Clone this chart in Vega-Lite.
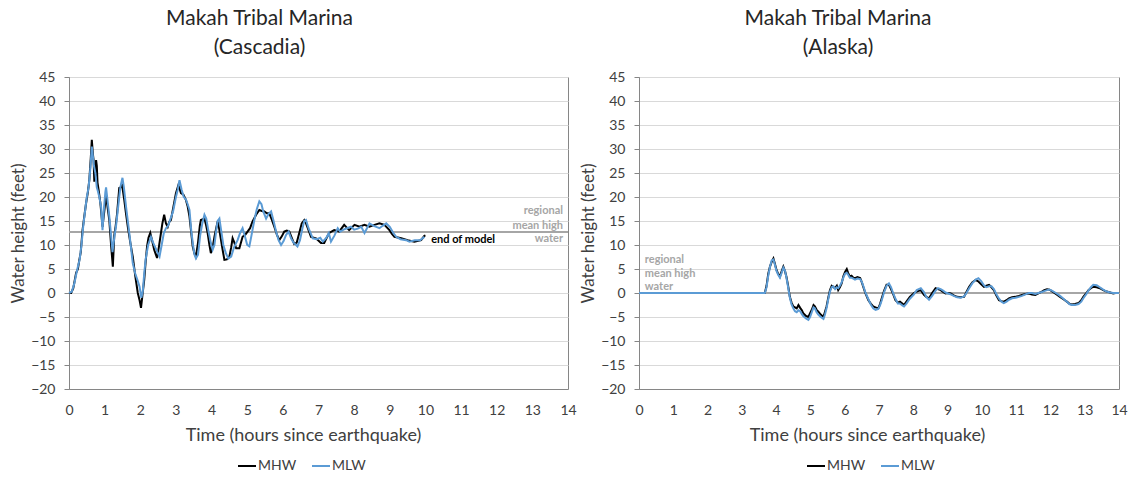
{
  "$schema": "https://vega.github.io/schema/vega-lite/v6.json",
  "padding": {"left": 9, "top": 7, "right": 0, "bottom": 0},
  "spacing": 2,
  "background": "white",
  "config": {
    "font": "Lato",
    "view": {"stroke": "#868686", "strokeWidth": 1},
    "axis": {
      "domainColor": "#868686",
      "tickColor": "#868686",
      "labelColor": "#404040",
      "titleColor": "#404040",
      "labelFontSize": 14,
      "titleFontSize": 17,
      "titleFontWeight": "normal",
      "gridColor": "#d9d9d9",
      "labelFont": "Lato",
      "titleFont": "Lato",
      "labelFlush": false
    },
    "legend": {"labelFont": "Lato", "labelFontSize": 14, "labelColor": "#404040"},
    "title": {"font": "Lato", "fontSize": 21, "fontWeight": "normal", "color": "#262626", "lineHeight": 29, "anchor": "middle", "offset": 12}
  },
  "datasets": {
    "cascadia": [
      {"s":"MHW","t":0,"v":0},{"s":"MHW","t":0.06,"v":0},{"s":"MHW","t":0.12,"v":1},{"s":"MHW","t":0.2,"v":4.2},{"s":"MHW","t":0.25,"v":5},{"s":"MHW","t":0.29,"v":6.9},{"s":"MHW","t":0.33,"v":8.5},{"s":"MHW","t":0.38,"v":13.1},{"s":"MHW","t":0.43,"v":16},{"s":"MHW","t":0.48,"v":18.75},{"s":"MHW","t":0.53,"v":21},{"s":"MHW","t":0.57,"v":23.5},{"s":"MHW","t":0.61,"v":28},{"s":"MHW","t":0.64,"v":31.9},{"s":"MHW","t":0.67,"v":29},{"s":"MHW","t":0.69,"v":27.7},{"s":"MHW","t":0.71,"v":23.2},{"s":"MHW","t":0.73,"v":24},{"s":"MHW","t":0.76,"v":27.7},{"s":"MHW","t":0.78,"v":26.5},{"s":"MHW","t":0.8,"v":23},{"s":"MHW","t":0.84,"v":21},{"s":"MHW","t":0.88,"v":18.75},{"s":"MHW","t":0.94,"v":13.8},{"s":"MHW","t":0.99,"v":17},{"s":"MHW","t":1.04,"v":20.4},{"s":"MHW","t":1.08,"v":18},{"s":"MHW","t":1.13,"v":15.2},{"s":"MHW","t":1.18,"v":10},{"s":"MHW","t":1.23,"v":5.5},{"s":"MHW","t":1.27,"v":12},{"s":"MHW","t":1.31,"v":14},{"s":"MHW","t":1.35,"v":16.6},{"s":"MHW","t":1.41,"v":21.9},{"s":"MHW","t":1.45,"v":22},{"s":"MHW","t":1.49,"v":22.5},{"s":"MHW","t":1.55,"v":19.4},{"s":"MHW","t":1.6,"v":16.5},{"s":"MHW","t":1.65,"v":13.8},{"s":"MHW","t":1.72,"v":10.5},{"s":"MHW","t":1.79,"v":7.5},{"s":"MHW","t":1.86,"v":3.5},{"s":"MHW","t":1.93,"v":0},{"s":"MHW","t":1.98,"v":-1.5},{"s":"MHW","t":2.02,"v":-3.1},{"s":"MHW","t":2.06,"v":-0.5},{"s":"MHW","t":2.11,"v":2.7},{"s":"MHW","t":2.15,"v":6.5},{"s":"MHW","t":2.19,"v":9.7},{"s":"MHW","t":2.23,"v":11.5},{"s":"MHW","t":2.28,"v":12.5},{"s":"MHW","t":2.33,"v":11},{"s":"MHW","t":2.39,"v":9},{"s":"MHW","t":2.47,"v":7.3},{"s":"MHW","t":2.52,"v":9.5},{"s":"MHW","t":2.58,"v":12.5},{"s":"MHW","t":2.62,"v":14.5},{"s":"MHW","t":2.67,"v":16.3},{"s":"MHW","t":2.72,"v":14.5},{"s":"MHW","t":2.77,"v":13.8},{"s":"MHW","t":2.81,"v":14.8},{"s":"MHW","t":2.86,"v":15.2},{"s":"MHW","t":2.93,"v":18},{"s":"MHW","t":3.0,"v":20.8},{"s":"MHW","t":3.07,"v":22.5},{"s":"MHW","t":3.14,"v":20.8},{"s":"MHW","t":3.21,"v":20.5},{"s":"MHW","t":3.28,"v":19.4},{"s":"MHW","t":3.33,"v":18},{"s":"MHW","t":3.38,"v":15.9},{"s":"MHW","t":3.43,"v":12.5},{"s":"MHW","t":3.47,"v":9.7},{"s":"MHW","t":3.52,"v":8.2},{"s":"MHW","t":3.56,"v":7.6},{"s":"MHW","t":3.62,"v":10.5},{"s":"MHW","t":3.67,"v":14},{"s":"MHW","t":3.7,"v":15.2},{"s":"MHW","t":3.8,"v":15.5},{"s":"MHW","t":3.85,"v":14},{"s":"MHW","t":3.89,"v":12.5},{"s":"MHW","t":3.94,"v":10},{"s":"MHW","t":3.98,"v":8.3},{"s":"MHW","t":4.03,"v":9.5},{"s":"MHW","t":4.08,"v":11.7},{"s":"MHW","t":4.13,"v":13.5},{"s":"MHW","t":4.17,"v":14.9},{"s":"MHW","t":4.21,"v":13.5},{"s":"MHW","t":4.25,"v":11.7},{"s":"MHW","t":4.31,"v":9},{"s":"MHW","t":4.36,"v":6.9},{"s":"MHW","t":4.43,"v":7},{"s":"MHW","t":4.5,"v":7.6},{"s":"MHW","t":4.55,"v":9.5},{"s":"MHW","t":4.59,"v":11.4},{"s":"MHW","t":4.64,"v":10.5},{"s":"MHW","t":4.69,"v":9.3},{"s":"MHW","t":4.78,"v":9.3},{"s":"MHW","t":4.87,"v":11.7},{"s":"MHW","t":4.95,"v":12.2},{"s":"MHW","t":5.01,"v":12.8},{"s":"MHW","t":5.08,"v":13.5},{"s":"MHW","t":5.15,"v":14.9},{"s":"MHW","t":5.25,"v":16.3},{"s":"MHW","t":5.34,"v":17.3},{"s":"MHW","t":5.41,"v":17.1},{"s":"MHW","t":5.48,"v":17},{"s":"MHW","t":5.55,"v":16.6},{"s":"MHW","t":5.62,"v":16.6},{"s":"MHW","t":5.69,"v":15.3},{"s":"MHW","t":5.76,"v":13.8},{"s":"MHW","t":5.83,"v":12.2},{"s":"MHW","t":5.9,"v":11},{"s":"MHW","t":5.97,"v":11.8},{"s":"MHW","t":6.04,"v":12.8},{"s":"MHW","t":6.11,"v":13},{"s":"MHW","t":6.18,"v":12.8},{"s":"MHW","t":6.25,"v":11.5},{"s":"MHW","t":6.32,"v":10.2},{"s":"MHW","t":6.39,"v":10.5},{"s":"MHW","t":6.46,"v":12.5},{"s":"MHW","t":6.53,"v":14.5},{"s":"MHW","t":6.6,"v":15.2},{"s":"MHW","t":6.65,"v":14.5},{"s":"MHW","t":6.7,"v":13.5},{"s":"MHW","t":6.79,"v":11.7},{"s":"MHW","t":6.93,"v":11.4},{"s":"MHW","t":7.07,"v":10.4},{"s":"MHW","t":7.16,"v":10.4},{"s":"MHW","t":7.23,"v":11.5},{"s":"MHW","t":7.3,"v":12.5},{"s":"MHW","t":7.44,"v":13.1},{"s":"MHW","t":7.58,"v":12.8},{"s":"MHW","t":7.72,"v":14.2},{"s":"MHW","t":7.86,"v":13.1},{"s":"MHW","t":8.01,"v":14.2},{"s":"MHW","t":8.15,"v":13.8},{"s":"MHW","t":8.29,"v":14.2},{"s":"MHW","t":8.43,"v":13.8},{"s":"MHW","t":8.57,"v":14.2},{"s":"MHW","t":8.71,"v":14.5},{"s":"MHW","t":8.85,"v":14.2},{"s":"MHW","t":8.99,"v":13.1},{"s":"MHW","t":9.06,"v":12.3},{"s":"MHW","t":9.13,"v":11.7},{"s":"MHW","t":9.32,"v":11.4},{"s":"MHW","t":9.5,"v":11},{"s":"MHW","t":9.69,"v":10.7},{"s":"MHW","t":9.88,"v":11},{"s":"MHW","t":9.97,"v":11.9},{"s":"MHW","t":10.0,"v":12},
      {"s":"MLW","t":0,"v":0},{"s":"MLW","t":0.08,"v":0.3},{"s":"MLW","t":0.15,"v":2},{"s":"MLW","t":0.2,"v":3.8},{"s":"MLW","t":0.25,"v":5.5},{"s":"MLW","t":0.3,"v":7},{"s":"MLW","t":0.35,"v":10},{"s":"MLW","t":0.4,"v":14},{"s":"MLW","t":0.45,"v":17},{"s":"MLW","t":0.5,"v":20},{"s":"MLW","t":0.55,"v":22},{"s":"MLW","t":0.6,"v":26},{"s":"MLW","t":0.64,"v":30.5},{"s":"MLW","t":0.67,"v":28.5},{"s":"MLW","t":0.7,"v":26.5},{"s":"MLW","t":0.74,"v":25},{"s":"MLW","t":0.78,"v":22},{"s":"MLW","t":0.8,"v":21.5},{"s":"MLW","t":0.85,"v":20},{"s":"MLW","t":0.9,"v":18},{"s":"MLW","t":0.94,"v":13.1},{"s":"MLW","t":0.98,"v":17.5},{"s":"MLW","t":1.02,"v":21},{"s":"MLW","t":1.04,"v":22},{"s":"MLW","t":1.07,"v":20},{"s":"MLW","t":1.13,"v":16},{"s":"MLW","t":1.18,"v":12},{"s":"MLW","t":1.22,"v":8.5},{"s":"MLW","t":1.27,"v":11.5},{"s":"MLW","t":1.32,"v":14},{"s":"MLW","t":1.38,"v":18},{"s":"MLW","t":1.44,"v":22},{"s":"MLW","t":1.5,"v":24},{"s":"MLW","t":1.54,"v":22},{"s":"MLW","t":1.6,"v":18},{"s":"MLW","t":1.7,"v":12},{"s":"MLW","t":1.79,"v":6.2},{"s":"MLW","t":1.86,"v":4},{"s":"MLW","t":1.93,"v":2.5},{"s":"MLW","t":1.98,"v":1.3},{"s":"MLW","t":2.03,"v":-1},{"s":"MLW","t":2.07,"v":0.3},{"s":"MLW","t":2.11,"v":4},{"s":"MLW","t":2.15,"v":7},{"s":"MLW","t":2.22,"v":10},{"s":"MLW","t":2.3,"v":11.7},{"s":"MLW","t":2.36,"v":10.5},{"s":"MLW","t":2.42,"v":9.5},{"s":"MLW","t":2.48,"v":8.5},{"s":"MLW","t":2.54,"v":7.6},{"s":"MLW","t":2.6,"v":10},{"s":"MLW","t":2.66,"v":12.5},{"s":"MLW","t":2.72,"v":13.5},{"s":"MLW","t":2.78,"v":14},{"s":"MLW","t":2.85,"v":15.5},{"s":"MLW","t":2.92,"v":17},{"s":"MLW","t":3.0,"v":20},{"s":"MLW","t":3.05,"v":21.5},{"s":"MLW","t":3.1,"v":23.5},{"s":"MLW","t":3.16,"v":21.5},{"s":"MLW","t":3.22,"v":20},{"s":"MLW","t":3.28,"v":19.5},{"s":"MLW","t":3.33,"v":18.5},{"s":"MLW","t":3.38,"v":17.3},{"s":"MLW","t":3.43,"v":13},{"s":"MLW","t":3.48,"v":10},{"s":"MLW","t":3.52,"v":8},{"s":"MLW","t":3.56,"v":7.2},{"s":"MLW","t":3.62,"v":8},{"s":"MLW","t":3.68,"v":12},{"s":"MLW","t":3.74,"v":14.5},{"s":"MLW","t":3.8,"v":16.3},{"s":"MLW","t":3.85,"v":15.5},{"s":"MLW","t":3.91,"v":13},{"s":"MLW","t":3.98,"v":10.4},{"s":"MLW","t":4.03,"v":9},{"s":"MLW","t":4.08,"v":10},{"s":"MLW","t":4.13,"v":13},{"s":"MLW","t":4.17,"v":15},{"s":"MLW","t":4.22,"v":15.5},{"s":"MLW","t":4.27,"v":13},{"s":"MLW","t":4.33,"v":10},{"s":"MLW","t":4.4,"v":8.3},{"s":"MLW","t":4.47,"v":7.2},{"s":"MLW","t":4.55,"v":7.6},{"s":"MLW","t":4.63,"v":9.5},{"s":"MLW","t":4.73,"v":11},{"s":"MLW","t":4.8,"v":12.5},{"s":"MLW","t":4.87,"v":13.5},{"s":"MLW","t":4.93,"v":12},{"s":"MLW","t":5.0,"v":10},{"s":"MLW","t":5.06,"v":9.7},{"s":"MLW","t":5.12,"v":12},{"s":"MLW","t":5.2,"v":15.2},{"s":"MLW","t":5.27,"v":17.5},{"s":"MLW","t":5.34,"v":19.1},{"s":"MLW","t":5.4,"v":18.5},{"s":"MLW","t":5.45,"v":17},{"s":"MLW","t":5.53,"v":15.5},{"s":"MLW","t":5.6,"v":16.5},{"s":"MLW","t":5.67,"v":17},{"s":"MLW","t":5.74,"v":15},{"s":"MLW","t":5.81,"v":12.8},{"s":"MLW","t":5.88,"v":11},{"s":"MLW","t":5.95,"v":10},{"s":"MLW","t":6.02,"v":10.8},{"s":"MLW","t":6.09,"v":12.1},{"s":"MLW","t":6.16,"v":12.8},{"s":"MLW","t":6.23,"v":11.4},{"s":"MLW","t":6.3,"v":10.5},{"s":"MLW","t":6.37,"v":10},{"s":"MLW","t":6.41,"v":9.7},{"s":"MLW","t":6.48,"v":11},{"s":"MLW","t":6.55,"v":13.5},{"s":"MLW","t":6.6,"v":15},{"s":"MLW","t":6.65,"v":15.2},{"s":"MLW","t":6.72,"v":13.5},{"s":"MLW","t":6.84,"v":11.4},{"s":"MLW","t":6.95,"v":11.2},{"s":"MLW","t":7.05,"v":11.5},{"s":"MLW","t":7.12,"v":10.7},{"s":"MLW","t":7.22,"v":11.5},{"s":"MLW","t":7.29,"v":12.5},{"s":"MLW","t":7.35,"v":10.7},{"s":"MLW","t":7.45,"v":12},{"s":"MLW","t":7.54,"v":13.5},{"s":"MLW","t":7.61,"v":12.8},{"s":"MLW","t":7.7,"v":13.2},{"s":"MLW","t":7.8,"v":13.5},{"s":"MLW","t":7.91,"v":13.8},{"s":"MLW","t":8.0,"v":13.2},{"s":"MLW","t":8.1,"v":13.4},{"s":"MLW","t":8.2,"v":13.8},{"s":"MLW","t":8.29,"v":12.5},{"s":"MLW","t":8.36,"v":13.5},{"s":"MLW","t":8.43,"v":14.5},{"s":"MLW","t":8.55,"v":14},{"s":"MLW","t":8.71,"v":13.5},{"s":"MLW","t":8.8,"v":14},{"s":"MLW","t":8.9,"v":14.5},{"s":"MLW","t":9.0,"v":13.8},{"s":"MLW","t":9.1,"v":12.5},{"s":"MLW","t":9.18,"v":11.7},{"s":"MLW","t":9.3,"v":11.2},{"s":"MLW","t":9.46,"v":11},{"s":"MLW","t":9.55,"v":10.7},{"s":"MLW","t":9.7,"v":11},{"s":"MLW","t":9.85,"v":11},{"s":"MLW","t":9.97,"v":11.7}
    ],
    "alaska": [
      {"s":"MHW","t":0,"v":0},{"s":"MHW","t":3.67,"v":0},{"s":"MHW","t":3.72,"v":1.5},{"s":"MHW","t":3.77,"v":4},{"s":"MHW","t":3.82,"v":5.5},{"s":"MHW","t":3.87,"v":6.5},{"s":"MHW","t":3.92,"v":7.2},{"s":"MHW","t":3.96,"v":6.2},{"s":"MHW","t":4.01,"v":4.8},{"s":"MHW","t":4.06,"v":4},{"s":"MHW","t":4.11,"v":3.4},{"s":"MHW","t":4.16,"v":4.5},{"s":"MHW","t":4.21,"v":5.5},{"s":"MHW","t":4.26,"v":4.5},{"s":"MHW","t":4.3,"v":3.4},{"s":"MHW","t":4.35,"v":1.5},{"s":"MHW","t":4.4,"v":-0.8},{"s":"MHW","t":4.45,"v":-2},{"s":"MHW","t":4.5,"v":-2.8},{"s":"MHW","t":4.55,"v":-3},{"s":"MHW","t":4.6,"v":-3.2},{"s":"MHW","t":4.65,"v":-2.5},{"s":"MHW","t":4.7,"v":-3.1},{"s":"MHW","t":4.75,"v":-3.6},{"s":"MHW","t":4.79,"v":-4.2},{"s":"MHW","t":4.87,"v":-4.8},{"s":"MHW","t":4.94,"v":-5},{"s":"MHW","t":4.99,"v":-4.2},{"s":"MHW","t":5.04,"v":-3.5},{"s":"MHW","t":5.09,"v":-2.5},{"s":"MHW","t":5.13,"v":-2.8},{"s":"MHW","t":5.18,"v":-3.5},{"s":"MHW","t":5.23,"v":-3.9},{"s":"MHW","t":5.3,"v":-4.5},{"s":"MHW","t":5.38,"v":-5},{"s":"MHW","t":5.42,"v":-4},{"s":"MHW","t":5.47,"v":-2.8},{"s":"MHW","t":5.52,"v":-1},{"s":"MHW","t":5.57,"v":0.6},{"s":"MHW","t":5.62,"v":1.5},{"s":"MHW","t":5.67,"v":1.2},{"s":"MHW","t":5.72,"v":1},{"s":"MHW","t":5.77,"v":1.5},{"s":"MHW","t":5.81,"v":0.6},{"s":"MHW","t":5.86,"v":1.2},{"s":"MHW","t":5.91,"v":2},{"s":"MHW","t":5.96,"v":3.5},{"s":"MHW","t":6.01,"v":4.4},{"s":"MHW","t":6.06,"v":5},{"s":"MHW","t":6.1,"v":4.2},{"s":"MHW","t":6.15,"v":3.4},{"s":"MHW","t":6.2,"v":3.6},{"s":"MHW","t":6.25,"v":3.2},{"s":"MHW","t":6.3,"v":3.1},{"s":"MHW","t":6.37,"v":3.3},{"s":"MHW","t":6.45,"v":3.1},{"s":"MHW","t":6.5,"v":2.2},{"s":"MHW","t":6.54,"v":1.3},{"s":"MHW","t":6.6,"v":0},{"s":"MHW","t":6.69,"v":-1.5},{"s":"MHW","t":6.76,"v":-2.2},{"s":"MHW","t":6.83,"v":-2.8},{"s":"MHW","t":6.9,"v":-3},{"s":"MHW","t":6.98,"v":-3.2},{"s":"MHW","t":7.03,"v":-2.3},{"s":"MHW","t":7.08,"v":-1.1},{"s":"MHW","t":7.15,"v":0.5},{"s":"MHW","t":7.22,"v":1.7},{"s":"MHW","t":7.29,"v":1.7},{"s":"MHW","t":7.35,"v":0.8},{"s":"MHW","t":7.41,"v":-0.2},{"s":"MHW","t":7.48,"v":-1.5},{"s":"MHW","t":7.55,"v":-2},{"s":"MHW","t":7.61,"v":-1.8},{"s":"MHW","t":7.68,"v":-2.2},{"s":"MHW","t":7.73,"v":-2.5},{"s":"MHW","t":7.8,"v":-1.8},{"s":"MHW","t":7.9,"v":-0.8},{"s":"MHW","t":8.02,"v":0},{"s":"MHW","t":8.1,"v":0.3},{"s":"MHW","t":8.22,"v":0.6},{"s":"MHW","t":8.31,"v":-0.4},{"s":"MHW","t":8.38,"v":-0.8},{"s":"MHW","t":8.46,"v":-1.1},{"s":"MHW","t":8.55,"v":0},{"s":"MHW","t":8.65,"v":1},{"s":"MHW","t":8.72,"v":0.8},{"s":"MHW","t":8.8,"v":0.6},{"s":"MHW","t":8.87,"v":0.2},{"s":"MHW","t":8.94,"v":-0.1},{"s":"MHW","t":9.02,"v":0},{"s":"MHW","t":9.09,"v":-0.1},{"s":"MHW","t":9.18,"v":-0.5},{"s":"MHW","t":9.28,"v":-0.8},{"s":"MHW","t":9.38,"v":-0.9},{"s":"MHW","t":9.48,"v":-0.8},{"s":"MHW","t":9.55,"v":0.2},{"s":"MHW","t":9.63,"v":1.3},{"s":"MHW","t":9.72,"v":2.2},{"s":"MHW","t":9.82,"v":2.7},{"s":"MHW","t":9.9,"v":2.4},{"s":"MHW","t":9.98,"v":1.8},{"s":"MHW","t":10.06,"v":1.3},{"s":"MHW","t":10.13,"v":1.5},{"s":"MHW","t":10.21,"v":1.7},{"s":"MHW","t":10.28,"v":1.2},{"s":"MHW","t":10.35,"v":0.6},{"s":"MHW","t":10.42,"v":-0.5},{"s":"MHW","t":10.5,"v":-1.5},{"s":"MHW","t":10.57,"v":-1.7},{"s":"MHW","t":10.64,"v":-1.8},{"s":"MHW","t":10.72,"v":-1.5},{"s":"MHW","t":10.79,"v":-1.1},{"s":"MHW","t":10.88,"v":-0.9},{"s":"MHW","t":10.98,"v":-0.8},{"s":"MHW","t":11.08,"v":-0.6},{"s":"MHW","t":11.17,"v":-0.4},{"s":"MHW","t":11.27,"v":-0.2},{"s":"MHW","t":11.37,"v":-0.1},{"s":"MHW","t":11.46,"v":-0.3},{"s":"MHW","t":11.56,"v":-0.4},{"s":"MHW","t":11.65,"v":-0.1},{"s":"MHW","t":11.75,"v":0.3},{"s":"MHW","t":11.82,"v":0.6},{"s":"MHW","t":11.9,"v":0.8},{"s":"MHW","t":11.97,"v":0.7},{"s":"MHW","t":12.04,"v":0.4},{"s":"MHW","t":12.16,"v":-0.2},{"s":"MHW","t":12.28,"v":-0.8},{"s":"MHW","t":12.38,"v":-1.3},{"s":"MHW","t":12.48,"v":-1.8},{"s":"MHW","t":12.55,"v":-2.2},{"s":"MHW","t":12.62,"v":-2.4},{"s":"MHW","t":12.72,"v":-2.3},{"s":"MHW","t":12.82,"v":-2.1},{"s":"MHW","t":12.9,"v":-1.5},{"s":"MHW","t":12.96,"v":-0.8},{"s":"MHW","t":13.04,"v":-0.1},{"s":"MHW","t":13.11,"v":0.6},{"s":"MHW","t":13.18,"v":1},{"s":"MHW","t":13.25,"v":1.3},{"s":"MHW","t":13.35,"v":1.2},{"s":"MHW","t":13.44,"v":1},{"s":"MHW","t":13.54,"v":0.6},{"s":"MHW","t":13.64,"v":0.3},{"s":"MHW","t":13.74,"v":0.1},{"s":"MHW","t":13.83,"v":-0.1},{"s":"MHW","t":13.9,"v":0},{"s":"MHW","t":14,"v":0},
      {"s":"MLW","t":0,"v":0},{"s":"MLW","t":3.67,"v":0},{"s":"MLW","t":3.72,"v":1.2},{"s":"MLW","t":3.77,"v":3.6},{"s":"MLW","t":3.82,"v":5.4},{"s":"MLW","t":3.87,"v":6.8},{"s":"MLW","t":3.92,"v":7},{"s":"MLW","t":3.96,"v":6},{"s":"MLW","t":4.01,"v":4.6},{"s":"MLW","t":4.06,"v":3.8},{"s":"MLW","t":4.11,"v":3.2},{"s":"MLW","t":4.16,"v":4.2},{"s":"MLW","t":4.21,"v":5.3},{"s":"MLW","t":4.26,"v":4.6},{"s":"MLW","t":4.3,"v":3.2},{"s":"MLW","t":4.35,"v":1.2},{"s":"MLW","t":4.4,"v":-1},{"s":"MLW","t":4.45,"v":-2.4},{"s":"MLW","t":4.5,"v":-3.2},{"s":"MLW","t":4.55,"v":-3.8},{"s":"MLW","t":4.6,"v":-4},{"s":"MLW","t":4.65,"v":-3.6},{"s":"MLW","t":4.7,"v":-3.8},{"s":"MLW","t":4.75,"v":-4.4},{"s":"MLW","t":4.79,"v":-4.8},{"s":"MLW","t":4.87,"v":-5.3},{"s":"MLW","t":4.94,"v":-5.6},{"s":"MLW","t":4.99,"v":-5},{"s":"MLW","t":5.04,"v":-4},{"s":"MLW","t":5.09,"v":-3},{"s":"MLW","t":5.13,"v":-3.2},{"s":"MLW","t":5.18,"v":-4},{"s":"MLW","t":5.23,"v":-4.5},{"s":"MLW","t":5.3,"v":-5},{"s":"MLW","t":5.38,"v":-5.4},{"s":"MLW","t":5.42,"v":-4.6},{"s":"MLW","t":5.47,"v":-3.2},{"s":"MLW","t":5.52,"v":-1.3},{"s":"MLW","t":5.57,"v":0.3},{"s":"MLW","t":5.62,"v":1.2},{"s":"MLW","t":5.67,"v":1.4},{"s":"MLW","t":5.72,"v":0.8},{"s":"MLW","t":5.77,"v":1.2},{"s":"MLW","t":5.81,"v":1},{"s":"MLW","t":5.86,"v":1.5},{"s":"MLW","t":5.91,"v":2.2},{"s":"MLW","t":5.96,"v":3.2},{"s":"MLW","t":6.01,"v":4},{"s":"MLW","t":6.06,"v":4.2},{"s":"MLW","t":6.1,"v":3.8},{"s":"MLW","t":6.15,"v":3.2},{"s":"MLW","t":6.2,"v":3.2},{"s":"MLW","t":6.25,"v":3},{"s":"MLW","t":6.3,"v":2.8},{"s":"MLW","t":6.37,"v":3},{"s":"MLW","t":6.45,"v":2.9},{"s":"MLW","t":6.5,"v":2.3},{"s":"MLW","t":6.54,"v":1.5},{"s":"MLW","t":6.6,"v":0.2},{"s":"MLW","t":6.69,"v":-1.3},{"s":"MLW","t":6.76,"v":-2.4},{"s":"MLW","t":6.83,"v":-3.2},{"s":"MLW","t":6.9,"v":-3.5},{"s":"MLW","t":6.98,"v":-3.3},{"s":"MLW","t":7.03,"v":-2.6},{"s":"MLW","t":7.08,"v":-1.5},{"s":"MLW","t":7.15,"v":0.2},{"s":"MLW","t":7.22,"v":1.5},{"s":"MLW","t":7.29,"v":2},{"s":"MLW","t":7.35,"v":1.2},{"s":"MLW","t":7.41,"v":0},{"s":"MLW","t":7.48,"v":-1.2},{"s":"MLW","t":7.55,"v":-2.2},{"s":"MLW","t":7.61,"v":-2.2},{"s":"MLW","t":7.68,"v":-2.6},{"s":"MLW","t":7.73,"v":-2.8},{"s":"MLW","t":7.8,"v":-2.2},{"s":"MLW","t":7.9,"v":-1.2},{"s":"MLW","t":8.02,"v":-0.3},{"s":"MLW","t":8.1,"v":0.6},{"s":"MLW","t":8.22,"v":1},{"s":"MLW","t":8.31,"v":0.2},{"s":"MLW","t":8.38,"v":-0.8},{"s":"MLW","t":8.46,"v":-1.4},{"s":"MLW","t":8.55,"v":-0.6},{"s":"MLW","t":8.65,"v":0.5},{"s":"MLW","t":8.72,"v":1},{"s":"MLW","t":8.8,"v":0.8},{"s":"MLW","t":8.87,"v":0.5},{"s":"MLW","t":8.94,"v":0.1},{"s":"MLW","t":9.02,"v":-0.1},{"s":"MLW","t":9.09,"v":-0.3},{"s":"MLW","t":9.18,"v":-0.6},{"s":"MLW","t":9.28,"v":-0.9},{"s":"MLW","t":9.38,"v":-1},{"s":"MLW","t":9.48,"v":-0.7},{"s":"MLW","t":9.55,"v":0},{"s":"MLW","t":9.63,"v":1},{"s":"MLW","t":9.72,"v":2},{"s":"MLW","t":9.82,"v":2.8},{"s":"MLW","t":9.9,"v":3.1},{"s":"MLW","t":9.98,"v":2.5},{"s":"MLW","t":10.06,"v":1.6},{"s":"MLW","t":10.13,"v":1.2},{"s":"MLW","t":10.21,"v":1.4},{"s":"MLW","t":10.28,"v":1.4},{"s":"MLW","t":10.35,"v":0.8},{"s":"MLW","t":10.42,"v":-0.2},{"s":"MLW","t":10.5,"v":-1.2},{"s":"MLW","t":10.57,"v":-1.8},{"s":"MLW","t":10.64,"v":-2.1},{"s":"MLW","t":10.72,"v":-1.8},{"s":"MLW","t":10.79,"v":-1.4},{"s":"MLW","t":10.88,"v":-1.1},{"s":"MLW","t":10.98,"v":-1},{"s":"MLW","t":11.08,"v":-0.8},{"s":"MLW","t":11.17,"v":-0.6},{"s":"MLW","t":11.27,"v":-0.3},{"s":"MLW","t":11.37,"v":0},{"s":"MLW","t":11.46,"v":0},{"s":"MLW","t":11.56,"v":-0.2},{"s":"MLW","t":11.65,"v":0},{"s":"MLW","t":11.75,"v":0.2},{"s":"MLW","t":11.82,"v":0.4},{"s":"MLW","t":11.9,"v":0.6},{"s":"MLW","t":11.97,"v":0.7},{"s":"MLW","t":12.04,"v":0.5},{"s":"MLW","t":12.16,"v":0},{"s":"MLW","t":12.28,"v":-0.6},{"s":"MLW","t":12.38,"v":-1.2},{"s":"MLW","t":12.48,"v":-1.8},{"s":"MLW","t":12.55,"v":-2.3},{"s":"MLW","t":12.62,"v":-2.5},{"s":"MLW","t":12.72,"v":-2.5},{"s":"MLW","t":12.82,"v":-2.3},{"s":"MLW","t":12.9,"v":-1.8},{"s":"MLW","t":12.96,"v":-1.1},{"s":"MLW","t":13.04,"v":-0.3},{"s":"MLW","t":13.11,"v":0.5},{"s":"MLW","t":13.18,"v":1.2},{"s":"MLW","t":13.25,"v":1.7},{"s":"MLW","t":13.35,"v":1.6},{"s":"MLW","t":13.44,"v":1.2},{"s":"MLW","t":13.54,"v":0.7},{"s":"MLW","t":13.64,"v":0.3},{"s":"MLW","t":13.74,"v":0.1},{"s":"MLW","t":13.83,"v":0},{"s":"MLW","t":13.9,"v":0},{"s":"MLW","t":14,"v":0}
    ],
    "notesL": [
      {"t": 14, "v": 17.0, "label": "regional", "kind": "mhw"},
      {"t": 14, "v": 14.0, "label": "mean high", "kind": "mhw"},
      {"t": 14, "v": 11.2, "label": "water", "kind": "mhw"},
      {"t": 10.16, "v": 11.0, "label": "end of model", "kind": "end"}
    ],
    "notesR": [
      {"t": 0.17, "v": 6.9, "label": "regional"},
      {"t": 0.17, "v": 4.0, "label": "mean high"},
      {"t": 0.17, "v": 1.3, "label": "water"}
    ]
  },
  "resolve": {"scale": {"color": "independent"}, "legend": {"color": "independent"}},
  "hconcat": [
    {
      "width": 499,
      "height": 312,
      "title": {"text": ["Makah Tribal Marina", "(Cascadia)"], "dx": -59},
      "encoding": {
        "x": {"field": "t", "type": "quantitative", "scale": {"domain": [0, 14], "nice": false},
              "axis": {"values": [0,1,2,3,4,5,6,7,8,9,10,11,12,13,14], "grid": false, "ticks": false, "labelPadding": 14, "title": "Time (hours since earthquake)", "titleFontSize": 18, "titlePadding": 9, "titleX": 234}},
        "y": {"field": "v", "type": "quantitative", "scale": {"domain": [-20, 45], "nice": false},
              "axis": {"values": [-20,-15,-10,-5,0,5,10,15,20,25,30,35,40,45], "grid": true, "tickSize": 5, "labelPadding": 9, "title": "Water height (feet)", "titlePadding": 3}}
      },
      "layer": [
        {"data": {"values": [{"v": 12.7}]}, "mark": {"type": "rule", "color": "#a6a6a6", "strokeWidth": 2}, "encoding": {"y": {"field": "v", "type": "quantitative"}, "x": null}},
        {"data": {"name": "cascadia"}, "transform": [{"filter": "datum.s === 'MHW'"}], "mark": {"type": "line", "strokeWidth": 2},
         "encoding": {"color": {"field": "s", "type": "nominal", "scale": {"domain": ["MHW", "MLW"], "range": ["#000000", "#5b9bd5"]},
                      "legend": {"orient": "none", "legendX": 168, "legendY": 379, "direction": "horizontal", "title": null, "symbolType": "stroke", "symbolSize": 324, "symbolStrokeWidth": 2, "columnPadding": 11, "labelOffset": 1}}}},
        {"data": {"name": "cascadia"}, "transform": [{"filter": "datum.s === 'MLW'"}], "mark": {"type": "line", "strokeWidth": 2},
         "encoding": {"color": {"field": "s", "type": "nominal"}}},
        {"data": {"name": "notesL"}, "transform": [{"filter": "datum.kind === 'mhw'"}], "mark": {"type": "text", "align": "right", "baseline": "middle", "dx": -5, "fontSize": 11, "fontWeight": "bold", "color": "#a6a6a6"},
         "encoding": {"text": {"field": "label"}}},
        {"data": {"name": "notesL"}, "transform": [{"filter": "datum.kind === 'end'"}], "mark": {"type": "text", "align": "left", "baseline": "middle", "fontSize": 11, "fontWeight": "bold", "color": "#000000"},
         "encoding": {"text": {"field": "label"}}}
      ]
    },
    {
      "width": 480,
      "height": 312,
      "title": {"text": ["Makah Tribal Marina", "(Alaska)"], "dx": -41},
      "encoding": {
        "x": {"field": "t", "type": "quantitative", "scale": {"domain": [0, 14], "nice": false},
              "axis": {"values": [0,1,2,3,4,5,6,7,8,9,10,11,12,13,14], "grid": false, "ticks": false, "labelPadding": 14, "title": "Time (hours since earthquake)", "titleFontSize": 18, "titlePadding": 9, "titleX": 228}},
        "y": {"field": "v", "type": "quantitative", "scale": {"domain": [-20, 45], "nice": false},
              "axis": {"values": [-20,-15,-10,-5,0,5,10,15,20,25,30,35,40,45], "grid": true, "tickSize": 5, "labelPadding": 9, "title": "Water height (feet)", "titlePadding": 3}}
      },
      "layer": [
        {"data": {"values": [{"v": 0}]}, "mark": {"type": "rule", "color": "#a6a6a6", "strokeWidth": 2}, "encoding": {"y": {"field": "v", "type": "quantitative"}, "x": null}},
        {"data": {"name": "alaska"}, "transform": [{"filter": "datum.s === 'MHW'"}], "mark": {"type": "line", "strokeWidth": 2},
         "encoding": {"color": {"field": "s", "type": "nominal", "scale": {"domain": ["MHW", "MLW"], "range": ["#000000", "#5b9bd5"]},
                      "legend": {"orient": "none", "legendX": 167, "legendY": 379, "direction": "horizontal", "title": null, "symbolType": "stroke", "symbolSize": 324, "symbolStrokeWidth": 2, "columnPadding": 11, "labelOffset": 1}}}},
        {"data": {"name": "alaska"}, "transform": [{"filter": "datum.s === 'MLW'"}], "mark": {"type": "line", "strokeWidth": 2},
         "encoding": {"color": {"field": "s", "type": "nominal"}}},
        {"data": {"name": "notesR"}, "mark": {"type": "text", "align": "left", "baseline": "middle", "fontSize": 11, "fontWeight": "bold", "color": "#a6a6a6"},
         "encoding": {"text": {"field": "label"}}}
      ]
    }
  ]
}
